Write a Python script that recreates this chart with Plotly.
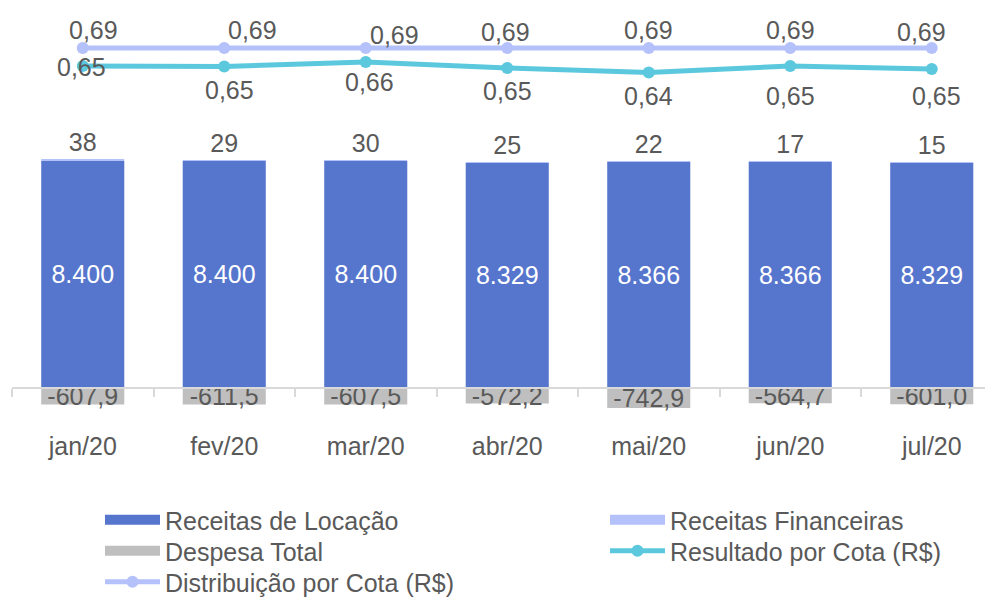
import plotly.graph_objects as go

months = ["jan/20", "fev/20", "mar/20", "abr/20", "mai/20", "jun/20", "jul/20"]
receitas_locacao = [8400, 8400, 8400, 8329, 8366, 8366, 8329]
receitas_financeiras = [38, 29, 30, 25, 22, 17, 15]
despesa_total = [-607.9, -611.5, -607.5, -572.2, -742.9, -564.7, -601.0]
resultado_cota = [0.654, 0.653, 0.662, 0.650, 0.641, 0.654, 0.648]
distribuicao_cota = [0.69, 0.69, 0.69, 0.69, 0.69, 0.69, 0.69]

# label offsets (px) of the line data labels, as placed in the original chart
dist_label_dx = [11, 28, 29, -2, 0, 0, -10]
dist_label_dy = [18, 18, 13, 16, 18, 18, 16]
res_label_dx = [-1, 5, 4, 0, 0, 0, 5]
res_label_dy = [-1, -23, -20, -23, -23, -30, -27]

BLUE = "#5675CD"
LAV = "#B4C1FA"
GRAY = "#BFBFBF"
TEAL = "#5BC8DE"
TXT = "#595959"
FONT = "Liberation Sans, Arial, sans-serif"


def br(v, d):
    s = f"{v:,.{d}f}"
    return s.replace(",", "X").replace(".", ",").replace("X", ".")


# the page body has an 8px margin, so the figure is sized to fit inside it
W, H = 985, 590
ML = 4
y_range = [-7770, 14060]
y2_range = [-0.41, 0.77]
zero_pos = (0 - y_range[0]) / (y_range[1] - y_range[0])

fig = go.Figure()

fig.add_trace(go.Bar(
    x=months, y=receitas_locacao, name="Receitas de Locação",
    marker=dict(color=BLUE, line=dict(width=0)), width=0.587,
    text=[br(v, 0) for v in receitas_locacao], textposition="inside",
    insidetextanchor="middle", constraintext="none",
    textfont=dict(color="white", size=25, family=FONT),
    showlegend=False, hoverinfo="skip",
))
fig.add_trace(go.Bar(
    x=months, y=receitas_financeiras, name="Receitas Financeiras",
    marker=dict(color=LAV, line=dict(width=0)), width=0.587,
    text=[br(v, 0) for v in receitas_financeiras], textposition="outside",
    constraintext="none", cliponaxis=False,
    textfont=dict(color=TXT, size=25, family=FONT),
    showlegend=False, hoverinfo="skip",
))
fig.add_trace(go.Bar(
    x=months, y=despesa_total, name="Despesa Total",
    marker=dict(color=GRAY, line=dict(width=0)), width=0.587,
    text=[br(v, 1) for v in despesa_total], textposition="inside",
    insidetextanchor="middle", constraintext="none",
    textfont=dict(color=TXT, size=25, family=FONT),
    showlegend=False, hoverinfo="skip",
))

fig.add_trace(go.Scatter(
    x=months, y=resultado_cota, name="Resultado por Cota (R$)", yaxis="y2",
    mode="lines+markers",
    line=dict(color=TEAL, width=5), marker=dict(color=TEAL, size=12),
    showlegend=False, cliponaxis=False, hoverinfo="skip",
))
fig.add_trace(go.Scatter(
    x=months, y=distribuicao_cota, name="Distribuição por Cota (R$)", yaxis="y2",
    mode="lines+markers",
    line=dict(color=LAV, width=5), marker=dict(color=LAV, size=12),
    showlegend=False, cliponaxis=False, hoverinfo="skip",
))

annotations = []
for m, v, dx, dy in zip(months, distribuicao_cota, dist_label_dx, dist_label_dy):
    annotations.append(dict(x=m, y=v, xref="x", yref="y2", text=br(v, 2),
                            showarrow=False, xshift=dx, yshift=dy,
                            font=dict(size=25, color=TXT, family=FONT)))
for m, v, dx, dy in zip(months, resultado_cota, res_label_dx, res_label_dy):
    annotations.append(dict(x=m, y=v, xref="x", yref="y2", text=br(v, 2),
                            showarrow=False, xshift=dx, yshift=dy,
                            font=dict(size=25, color=TXT, family=FONT)))

pw = W - ML
leg_common = dict(orientation="v", xanchor="left", yanchor="middle",
                  font=dict(size=25, color=TXT, family=FONT), itemwidth=55,
                  tracegroupgap=0, bgcolor="rgba(0,0,0,0)",
                  itemclick=False, itemdoubleclick=False)

legend_entries = [
    ("Receitas de Locação", BLUE, False, 92, 512),
    ("Receitas Financeiras", LAV, False, 597, 512),
    ("Despesa Total", GRAY, False, 92, 543),
    ("Resultado por Cota (R$)", TEAL, True, 597, 543),
    ("Distribuição por Cota (R$)", LAV, True, 92, 574),
]
legend_layout = {}
for i, (name, color, mk, lx, ly) in enumerate(legend_entries):
    lid = "legend" if i == 0 else f"legend{i + 1}"
    fig.add_trace(go.Scatter(
        x=[None], y=[None], name=name, mode="lines+markers" if mk else "lines",
        line=dict(color=color, width=5 if mk else 10),
        marker=dict(color=color, size=12), legend=lid,
    ))
    legend_layout[lid] = dict(x=(lx - ML) / pw, y=(H - ly) / H, **leg_common)

fig.update_layout(
    width=W, height=H, barmode="relative",
    margin=dict(l=ML, r=0, t=0, b=0, autoexpand=False),
    paper_bgcolor="white", plot_bgcolor="white",
    font=dict(family=FONT, color=TXT, size=25),
    annotations=annotations,
    xaxis=dict(type="category", categoryorder="array", categoryarray=months,
               range=[-0.5, (W - ML) / 141.5 - 0.5], anchor="free",
               position=zero_pos, automargin=False,
               showline=True, linecolor="#D9D9D9", linewidth=2,
               ticks="outside", tickson="boundaries", ticklen=8,
               tickcolor="#D9D9D9", tickwidth=2, ticklabelstandoff=36,
               tickfont=dict(size=25, color=TXT, family=FONT),
               showgrid=False, zeroline=False, fixedrange=True),
    yaxis=dict(range=y_range, visible=False, showgrid=False, zeroline=False,
               fixedrange=True, automargin=False),
    yaxis2=dict(range=y2_range, overlaying="y", visible=False, showgrid=False,
                zeroline=False, fixedrange=True, automargin=False),
    **legend_layout,
)

fig.write_html("out.html")
